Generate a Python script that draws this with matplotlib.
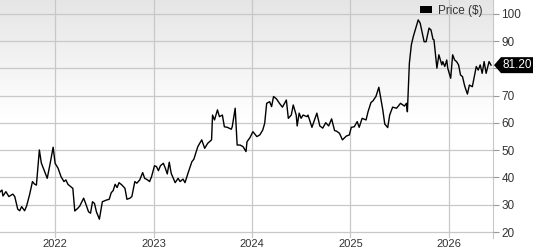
import numpy as np
import matplotlib
matplotlib.use('Agg')
import matplotlib.pyplot as plt
from matplotlib.patches import Patch, Polygon
from matplotlib.ticker import FuncFormatter

plt.rcParams['font.family'] = ['Liberation Sans', 'DejaVu Sans']

# dates as decimal years
anos = [2021.44, 2021.46, 2021.47, 2021.50, 2021.53, 2021.57, 2021.59, 2021.62, 2021.64, 2021.66,
        2021.69, 2021.71, 2021.74, 2021.77, 2021.79, 2021.81, 2021.84, 2021.86, 2021.90, 2021.92,
        2021.95, 2021.98, 2022.00, 2022.03, 2022.06, 2022.09, 2022.11, 2022.13, 2022.16, 2022.18,
        2022.20, 2022.23, 2022.25, 2022.29, 2022.31, 2022.34, 2022.36, 2022.38, 2022.40, 2022.42,
        2022.45, 2022.48, 2022.52, 2022.55, 2022.57, 2022.59, 2022.61, 2022.63, 2022.65, 2022.68,
        2022.71, 2022.73, 2022.76, 2022.78, 2022.81, 2022.83, 2022.86, 2022.89, 2022.91, 2022.94,
        2022.96, 2022.98, 2023.01, 2023.03, 2023.05, 2023.07, 2023.10, 2023.12, 2023.14, 2023.16,
        2023.18, 2023.22, 2023.25, 2023.27, 2023.30, 2023.32, 2023.35, 2023.39, 2023.41, 2023.45,
        2023.49, 2023.52, 2023.55, 2023.59, 2023.60, 2023.62, 2023.65, 2023.67, 2023.70, 2023.72,
        2023.75, 2023.79, 2023.80, 2023.83, 2023.85, 2023.88, 2023.91, 2023.94, 2023.95, 2023.98,
        2024.01, 2024.05, 2024.08, 2024.11, 2024.13, 2024.15, 2024.18, 2024.20, 2024.22, 2024.25,
        2024.28, 2024.31, 2024.35, 2024.37, 2024.40, 2024.42, 2024.45, 2024.46, 2024.48, 2024.50,
        2024.52, 2024.56, 2024.57, 2024.61, 2024.66,
        2024.69, 2024.72, 2024.75, 2024.78, 2024.81, 2024.84, 2024.86, 2024.89, 2024.92, 2024.96,
        2024.99, 2025.01, 2025.04, 2025.07, 2025.09, 2025.12, 2025.16, 2025.18, 2025.21, 2025.23,
        2025.26, 2025.29, 2025.33, 2025.35, 2025.38, 2025.40, 2025.43, 2025.47, 2025.51, 2025.55,
        2025.57, 2025.58, 2025.60, 2025.62, 2025.64, 2025.66, 2025.69, 2025.71, 2025.75, 2025.77,
        2025.80, 2025.82, 2025.84, 2025.85, 2025.88, 2025.90, 2025.93, 2025.94, 2025.96, 2025.98,
        2025.99, 2026.02, 2026.04, 2026.06, 2026.08, 2026.10, 2026.12, 2026.14, 2026.16, 2026.17,
        2026.19, 2026.21, 2026.24, 2026.26, 2026.28, 2026.30, 2026.32, 2026.34, 2026.36, 2026.38,
        2026.41, 2026.43]

preco = [34.7, 35.4, 33.2, 34.8, 33.0, 33.9, 33.0, 28.4, 27.8, 29.3,
         27.8, 29.5, 33.6, 38.5, 37.6, 37.2, 50.1, 45.3, 41.5, 39.7,
         45.2, 51.1, 45.2, 43.4, 40.3, 38.5, 39.1, 37.5, 36.6, 36.0,
         27.7, 28.7, 29.5, 32.4, 30.5, 27.4, 26.9, 31.1, 30.5, 27.4,
         24.7, 31.1, 31.7, 32.0, 34.4, 35.2, 37.5, 36.3, 38.1, 37.2,
         36.0, 32.0, 32.4, 33.0, 38.5, 37.9, 39.1, 41.8, 39.7, 39.1,
         38.5, 40.3, 44.3, 44.0, 42.5, 44.3, 45.2, 43.4, 41.3, 45.6,
         41.5, 38.1, 39.7, 38.5, 39.4, 38.1, 41.5, 45.8, 46.7, 51.3,
         53.8, 50.7, 52.5, 53.8, 62.9, 61.1, 64.8, 62.3, 62.9, 58.6,
         58.4, 57.7, 58.6, 65.4, 51.9, 51.9, 51.3, 49.5, 53.1, 54.6,
         56.8, 55.0, 55.6, 57.4, 59.9, 67.2, 67.8, 66.0, 69.7, 68.8,
         67.2, 65.8, 68.4, 61.7, 62.9, 66.6, 62.9, 58.9, 63.6, 61.7,
         62.9, 62.3, 62.9, 58.4, 63.6,
         58.9, 58.1, 60.1, 58.9, 61.5, 57.2, 57.0, 56.2, 53.8, 55.2,
         55.6, 58.4, 58.6, 60.5, 58.4, 61.7, 61.1, 64.1, 67.5, 68.1,
         69.7, 73.1, 64.8, 59.6, 58.3, 62.9, 65.8, 65.4, 67.2, 66.2,
         67.2, 64.1, 81.9, 88.6, 91.7, 94.1, 97.8, 96.6, 89.8, 89.8,
         94.8, 94.1, 90.7, 90.5, 80.1, 85.0, 81.3, 82.5, 80.7, 83.1,
         80.1, 76.4, 85.0, 83.1, 82.5, 81.3, 77.6, 77.0, 73.9, 72.7,
         70.6, 73.9, 73.3, 77.0, 80.7, 79.4, 81.3, 78.2, 82.5, 78.2,
         82.5, 81.2]

anos_ticks = [2022, 2023, 2024, 2025, 2026]
precos_ticks = [20, 30, 40, 50, 60, 70, 80, 90, 100]
ultimo = '81.20'

W, H = 533, 250
fig = plt.figure(figsize=(W / 100, H / 100), dpi=100)
ax = fig.add_axes([0, 12 / H, 493 / W, 238 / H])

xmin, xmax = 2021.44, 2026.45
ymin, ymax = 17.8, 105.1

# fundo em degrade
grad = np.linspace(0, 1, 256).reshape(-1, 1)
alpha = np.clip((grad - 0.5) / 0.5, 0, 1)
cor = np.ones((256, 1, 4))
cor[..., :3] = 1 - 0.1 * alpha[..., None]
ax.imshow(cor, extent=[xmin, xmax, ymin, ymax], origin='lower', aspect='auto', zorder=0)

ax.plot(anos, preco, color='black', lw=1.0, zorder=3)

ax.set_xlim(xmin, xmax)
ax.set_ylim(ymin, ymax)
ax.set_xticks(anos_ticks)
ax.set_xticklabels([str(a) for a in anos_ticks])
ax.set_yticks(precos_ticks)
# o rotulo escondido pela etiqueta do preco fica vazio
ax.yaxis.set_major_formatter(FuncFormatter(lambda v, p: '' if abs(v - preco[-1]) < 4 else '%d' % v))
ax.yaxis.tick_right()
ax.grid(True, color='#c8c8c8', lw=0.9, zorder=1)
ax.set_axisbelow(False)
for s in ['top', 'left', 'bottom']:
    ax.spines[s].set_visible(False)
ax.spines['right'].set_color('#c8c8c8')
ax.tick_params(axis='y', length=4, color='#999999', labelsize=8.5, labelcolor='#333333', pad=2)
ax.tick_params(axis='x', length=0, labelsize=8, labelcolor='#333333', pad=0.5)

leg = ax.legend(handles=[Patch(facecolor='black')], labels=['Price ($)'], frameon=False,
                loc='upper right', bbox_to_anchor=(1.0, 1.025), fontsize=8.5,
                handlelength=1.0, handleheight=0.5, handletextpad=0.5)
for t in leg.get_texts():
    t.set_color('#333333')

# etiqueta do ultimo preco
yp = ax.transData.transform((xmax, preco[-1]))[1]
x0 = ax.transAxes.transform((1, 0))[0] + 1
pts = [(x0, yp), (x0 + 7, yp + 8), (W, yp + 8), (W, yp - 8), (x0 + 7, yp - 8)]
tag = Polygon([(px / W, py / H) for px, py in pts], closed=True, transform=fig.transFigure,
              facecolor='black', edgecolor='none', zorder=10)
fig.patches.append(tag)
fig.text((x0 + 7 + W) / 2 / W, yp / H, ultimo, color='white', fontsize=8.5,
         ha='center', va='center', zorder=11)

fig.savefig('out.png', dpi=100)
